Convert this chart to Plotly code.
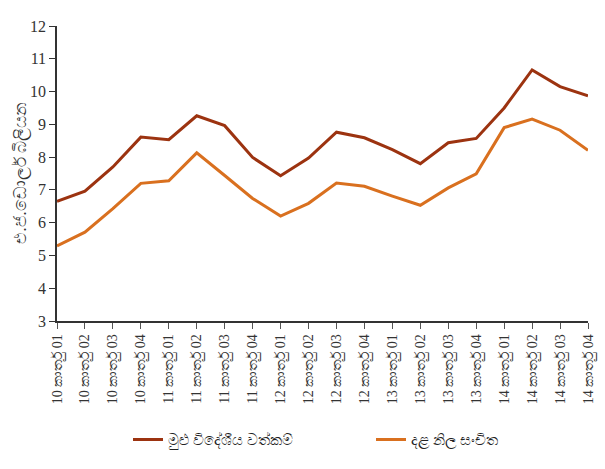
import plotly.graph_objects as go

quarters = ["10 කාර්තු 01", "10 කාර්තු 02", "10 කාර්තු 03", "10 කාර්තු 04",
            "11 කාර්තු 01", "11 කාර්තු 02", "11 කාර්තු 03", "11 කාර්තු 04",
            "12 කාර්තු 01", "12 කාර්තු 02", "12 කාර්තු 03", "12 කාර්තු 04",
            "13 කාර්තු 01", "13 කාර්තු 02", "13 කාර්තු 03", "13 කාර්තු 04",
            "14 කාර්තු 01", "14 කාර්තු 02", "14 කාර්තු 03", "14 කාර්තු 04"]

total_foreign_assets = [6.65, 6.96, 7.70, 8.61, 8.53, 9.26, 8.96, 7.99, 7.43, 7.97,
                        8.76, 8.59, 8.23, 7.80, 8.44, 8.57, 9.50, 10.66, 10.15, 9.87]
gross_official_reserves = [5.29, 5.71, 6.43, 7.20, 7.28, 8.13, 7.44, 6.74, 6.20, 6.59,
                           7.21, 7.11, 6.81, 6.53, 7.06, 7.49, 8.90, 9.16, 8.82, 8.21]

series_names = ["මුළු විදේශීය වත්කම්", "දළ නිල සංචිත"]
y_title = "එ.ජ.ඩොලර් බිලියන"

xs = list(range(len(quarters)))
FONT = "Liberation Serif, Times New Roman, serif"

W, H = 605, 469
ML, MR, MT, MB = 57, 17, 25.5, 148
PW = W - ML - MR
PH = H - MT - MB

fig = go.Figure()
fig.add_trace(go.Scatter(x=xs, y=total_foreign_assets, mode="lines", name=series_names[0],
                         line=dict(color="#9C3310", width=3), legend="legend"))
fig.add_trace(go.Scatter(x=xs, y=gross_official_reserves, mode="lines", name=series_names[1],
                         line=dict(color="#D9701F", width=3), legend="legend2"))

leg_y = -(440 - MT - PH) / PH
leg_common = dict(orientation="h", xanchor="left", y=leg_y, yanchor="middle",
                  font=dict(size=15, family=FONT, color="#222222"),
                  itemwidth=30, bgcolor="rgba(0,0,0,0)")

fig.update_layout(
    width=W, height=H,
    margin=dict(l=ML, r=MR, t=MT, b=MB, autoexpand=False),
    paper_bgcolor="white", plot_bgcolor="white",
    font=dict(family=FONT, color="#333333", size=14),
    showlegend=True,
    legend=dict(x=(128 - ML) / PW, **leg_common),
    legend2=dict(x=(371 - ML) / PW, **leg_common),
    annotations=[dict(text=y_title, textangle=-90, xref="paper", yref="paper",
                      x=(20 - ML) / PW, y=0.5, xanchor="center", yanchor="middle",
                      showarrow=False, font=dict(size=16.5, family=FONT, color="#333333"))],
)
fig.update_xaxes(
    range=[0, len(quarters) - 1], tickmode="array", tickvals=xs, ticktext=quarters,
    tickangle=-90, ticks="outside", ticklen=6, tickcolor="#555555", automargin=False,
    showline=True, linecolor="#333333", linewidth=1.5, showgrid=False, zeroline=False,
    tickfont=dict(size=14, family=FONT, color="#333333"),
)
fig.update_yaxes(
    range=[3, 12], dtick=1, ticks="outside", ticklen=6, tickcolor="#333333", automargin=False,
    showline=True, linecolor="#333333", linewidth=1.5, showgrid=False, zeroline=False,
    tickfont=dict(size=16, family=FONT, color="#333333"),
)

fig.write_html("out.html", config={"displayModeBar": False},
               post_script="document.body.style.margin='0';")
